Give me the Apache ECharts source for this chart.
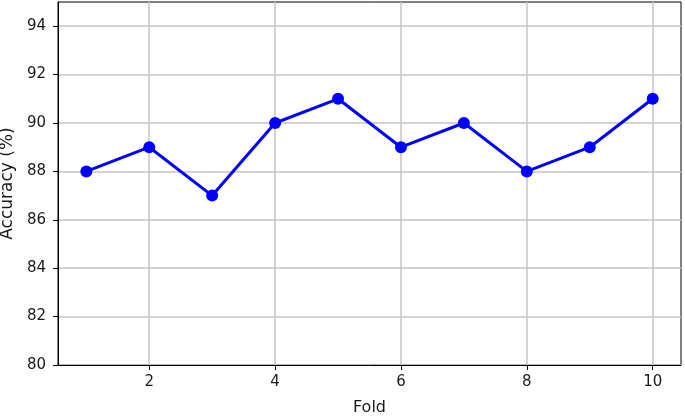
<!DOCTYPE html>
<html>
<head>
<meta charset="utf-8">
<script src="https://cdn.jsdelivr.net/npm/echarts@6/dist/echarts.min.js"></script>
<style>
  html, body { margin: 0; padding: 0; background: #fff; }
  #main { width: 685px; height: 416px; }
</style>
</head>
<body>
<div id="main"></div>
<script>
// data
var folds = [1, 2, 3, 4, 5, 6, 7, 8, 9, 10];
var accuracy = [88, 89, 87, 90, 91, 89, 90, 88, 89, 91];
var xTicks = [2, 4, 6, 8, 10];
var yTicks = [80, 82, 84, 86, 88, 90, 92, 94];

var points = [];
for (var i = 0; i < folds.length; i++) {
    points.push([folds[i], accuracy[i]]);
}

var chart = echarts.init(document.getElementById('main'));
var font = 'DejaVu Sans';
var txt = '#1a1a1a';

var option = {
    animation: false,
    grid: {
        left: 58,
        right: 4,
        top: 2,
        bottom: 51,
        outerBoundsMode: 'none',
        containLabel: false,
        show: true,
        borderColor: '#000',
        borderWidth: 1
    },
    xAxis: {
        type: 'value',
        min: 0.55,
        max: 10.45,
        name: 'Fold',
        nameLocation: 'middle',
        nameGap: 35,
        nameTextStyle: { color: txt, fontSize: 16, fontFamily: font },
        axisLine: { show: true, onZero: false, lineStyle: { color: '#000', width: 1 } },
        axisTick: { show: true, length: 5, customValues: xTicks, lineStyle: { color: '#000' } },
        axisLabel: { customValues: xTicks, color: txt, fontSize: 15, fontFamily: font, margin: 10 },
        splitLine: { show: true, lineStyle: { color: '#c4c4c4', width: 1.5 } }
    },
    yAxis: {
        type: 'value',
        min: 80,
        max: 95,
        name: 'Accuracy (%)',
        nameLocation: 'middle',
        nameGap: 35,
        nameTextStyle: { color: txt, fontSize: 17, fontFamily: font },
        axisLine: { show: true, onZero: false, lineStyle: { color: '#000', width: 1 } },
        axisTick: { show: true, length: 5, customValues: yTicks, lineStyle: { color: '#000' } },
        axisLabel: { customValues: yTicks, color: txt, fontSize: 15, fontFamily: font, margin: 12 },
        splitLine: { show: true, lineStyle: { color: '#c4c4c4', width: 1.5 } }
    },
    series: [
        {
            type: 'line',
            data: points,
            symbol: 'circle',
            symbolSize: 12,
            itemStyle: { color: '#0000ff' },
            lineStyle: { color: '#0000ff', width: 3 }
        }
    ]
};
chart.setOption(option);
</script>
</body>
</html>
